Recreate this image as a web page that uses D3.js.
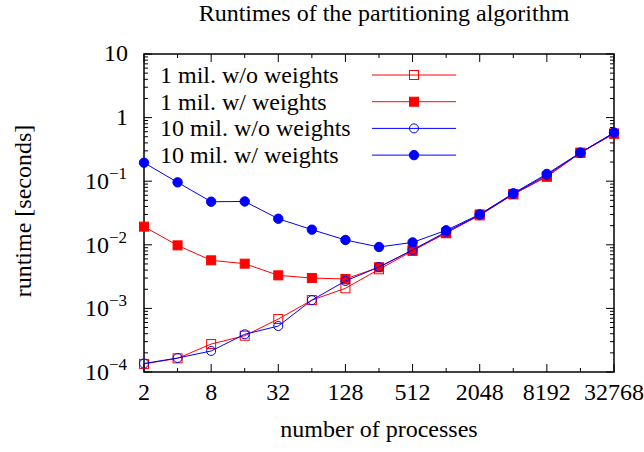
<!DOCTYPE html>
<html>
<head>
<meta charset="utf-8">
<script src="https://cdn.jsdelivr.net/npm/d3@7"></script>
<style>
body { margin: 0; background: #fff; }
text { font-family: "Liberation Serif", "DejaVu Serif", serif; fill: #000; }
</style>
</head>
<body>
<div id="container"></div>
<script>
var procs = [2, 4, 8, 16, 32, 64, 128, 256, 512, 1024, 2048, 4096, 8192, 16384, 32768];
var xTickLabels = [2, 8, 32, 128, 512, 2048, 8192, 32768];
var yTickValues = [1e-4, 1e-3, 1e-2, 1e-1, 1, 10];
var seriesNames = ["1 mil. w/o weights", "1 mil. w/ weights", "10 mil. w/o weights", "10 mil. w/ weights"];

var oneMilNoW = [1.34e-4, 1.64e-4, 2.75e-4, 3.72e-4, 6.8e-4, 1.35e-3, 2.07e-3, 4.12e-3, 8.0e-3, 0.0155, 0.029, 0.062, 0.118, 0.28, 0.56];
var oneMilW = [0.0193, 0.0098, 0.0057, 0.00505, 0.00331, 0.0030, 0.0029, 0.00443, 0.0083, 0.0152, 0.030, 0.063, 0.118, 0.28, 0.56];
var tenMilNoW = [1.36e-4, 1.66e-4, 2.14e-4, 3.92e-4, 5.28e-4, 1.35e-3, 2.70e-3, 4.48e-3, 8.3e-3, 0.016, 0.0295, 0.063, 0.125, 0.28, 0.58];
var tenMilW = [0.195, 0.096, 0.0476, 0.048, 0.0257, 0.0173, 0.0119, 0.00923, 0.0109, 0.0169, 0.0301, 0.0645, 0.130, 0.281, 0.579];

var width = 644, height = 452;
var pLeft = 144, pRight = 614, pTop = 54, pBottom = 372;
var fs = 24;

var svg = d3.select("#container").append("svg")
    .attr("width", width)
    .attr("height", height);

var x = d3.scaleLog().base(2).domain([2, 32768]).range([pLeft, pRight]);
var y = d3.scaleLog().domain([1e-4, 10]).range([pBottom, pTop]);

// ticks, inward on all four sides
var g = svg.append("g").attr("stroke", "#000").attr("stroke-width", 1);
procs.forEach(function(p) {
  var len = xTickLabels.indexOf(p) >= 0 ? 8 : 4;
  g.append("line").attr("x1", x(p)).attr("x2", x(p)).attr("y1", pBottom).attr("y2", pBottom - len);
  g.append("line").attr("x1", x(p)).attr("x2", x(p)).attr("y1", pTop).attr("y2", pTop + len);
});
for (var e = -4; e <= 1; e++) {
  for (var m = 1; m <= 9; m++) {
    var v = m * Math.pow(10, e);
    if (v > 10) break;
    var len = m == 1 ? 8 : 4;
    g.append("line").attr("x1", pLeft).attr("x2", pLeft + len).attr("y1", y(v)).attr("y2", y(v));
    g.append("line").attr("x1", pRight).attr("x2", pRight - len).attr("y1", y(v)).attr("y2", y(v));
  }
}

svg.append("rect")
  .attr("x", pLeft).attr("y", pTop)
  .attr("width", pRight - pLeft).attr("height", pBottom - pTop)
  .attr("fill", "none").attr("stroke", "#000").attr("stroke-width", 1.5);

// tick labels
svg.selectAll(".xl").data(xTickLabels).enter().append("text")
  .attr("x", d => x(d)).attr("y", 400)
  .attr("text-anchor", "middle").attr("font-size", fs)
  .text(d => d);

yTickValues.forEach(function(v) {
  var e = Math.round(Math.log10(v));
  var t = svg.append("text").attr("text-anchor", "end").attr("font-size", fs);
  if (e == 1 || e == 0) {
    t.attr("x", 128).attr("y", y(v) + 7).text(e == 1 ? "10" : "1");
  } else {
    t.attr("x", 127).attr("y", y(v) + 8);
    t.append("tspan").text("10");
    t.append("tspan").attr("dy", -10).attr("font-size", 17).text("\u2212" + (-e));
  }
});

svg.append("text").attr("x", 384).attr("y", 21).attr("text-anchor", "middle")
  .attr("font-size", fs).text("Runtimes of the partitioning algorithm");
svg.append("text").attr("x", 379).attr("y", 437).attr("text-anchor", "middle")
  .attr("font-size", fs).text("number of processes");
svg.append("text").attr("transform", "translate(31,211) rotate(-90)").attr("text-anchor", "middle")
  .attr("font-size", fs).text("runtime [seconds]");

var series = [
  {name: seriesNames[0], vals: oneMilNoW, color: "#ff0000", shape: "square", filled: false},
  {name: seriesNames[1], vals: oneMilW, color: "#ff0000", shape: "square", filled: true},
  {name: seriesNames[2], vals: tenMilNoW, color: "#0000ff", shape: "circle", filled: false},
  {name: seriesNames[3], vals: tenMilW, color: "#0000ff", shape: "circle", filled: true}
];

function marker(sel, s, cx, cy) {
  if (s.shape == "square") {
    sel.append("rect").attr("x", cx - 4.5).attr("y", cy - 4.5).attr("width", 9).attr("height", 9)
      .attr("fill", s.filled ? s.color : "none").attr("stroke", s.color).attr("stroke-width", 1);
  } else {
    sel.append("circle").attr("cx", cx).attr("cy", cy).attr("r", s.filled ? 4.7 : 4.5)
      .attr("fill", s.filled ? s.color : "none").attr("stroke", s.color).attr("stroke-width", 1);
  }
}

var line = d3.line().x((d, i) => x(procs[i])).y(d => y(d));

series.forEach(function(s, k) {
  var sg = svg.append("g");
  sg.append("path").attr("d", line(s.vals)).attr("fill", "none")
    .attr("stroke", s.color).attr("stroke-width", 1);
  s.vals.forEach(function(v, i) { marker(sg, s, x(procs[i]), y(v)); });

  var ly = 75 + k * 26.7;
  svg.append("text").attr("x", 160).attr("y", ly + 8).attr("font-size", fs).text(s.name);
  svg.append("line").attr("x1", 372).attr("x2", 456).attr("y1", ly).attr("y2", ly)
    .attr("stroke", s.color).attr("stroke-width", 1);
  marker(svg, s, 414, ly);
});
</script>
</body>
</html>
